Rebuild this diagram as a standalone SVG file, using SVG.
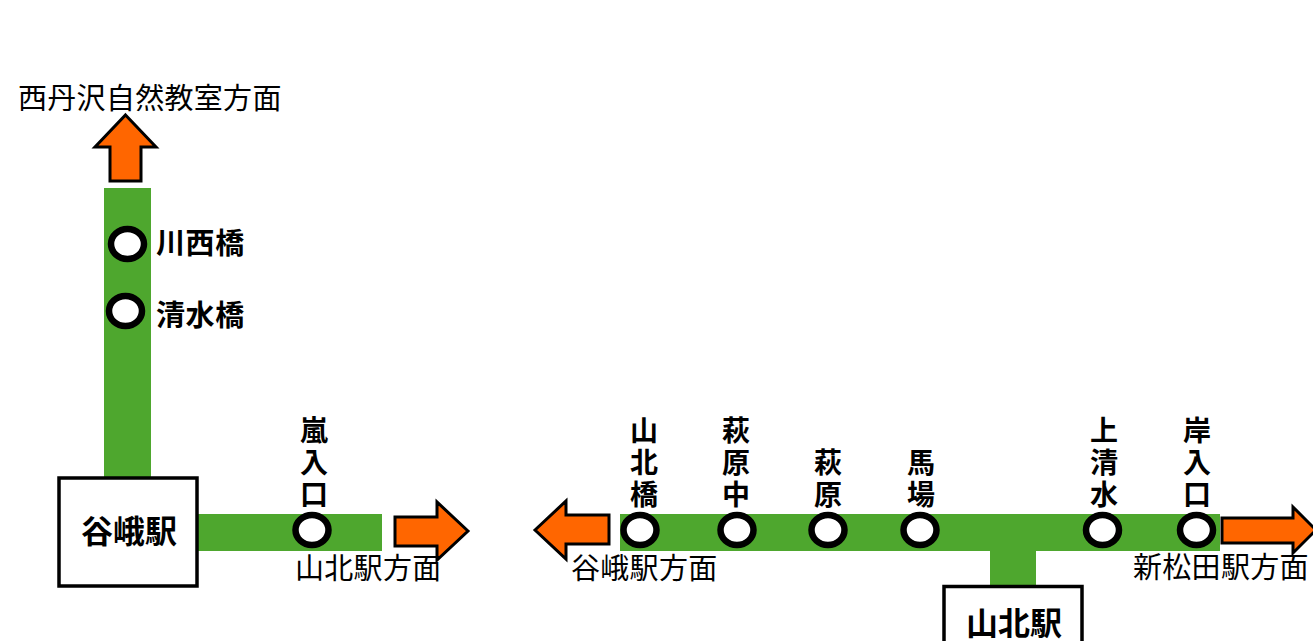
<svg xmlns="http://www.w3.org/2000/svg" width="1313" height="641" viewBox="0 0 1313 641">
<style>
.t{font-family:"Noto Sans CJK JP","Liberation Sans",sans-serif;fill:#000}
.d{font-size:29px;letter-spacing:.3px}
.s{font-size:29px;font-weight:700;letter-spacing:.6px}
.v{font-size:28px;font-weight:700;text-anchor:middle}
.b{font-size:32px;font-weight:700}
.st{fill:#fff;stroke:#000;stroke-width:6.500}
.ar{fill:#f60;stroke:#000;stroke-width:3}
.box{fill:#fff;stroke:#000;stroke-width:3.500}
.line{fill:#4ea72e}
</style>
<g id="connectors">
<rect class="line" x="104" y="188" width="47" height="291"/>
<rect class="line" x="197" y="514" width="185" height="37"/>
<rect class="line" x="620" y="514" width="600" height="37"/>
<rect class="line" x="990" y="551" width="46" height="36"/>
<polygon class="ar" points="125.500,115 156,147 141,147 141,181 110,181 110,147 95,147"/>
<polygon class="ar" points="468,531 437,502 437,517 395,517 395,546 437,546 437,560"/>
<polygon class="ar" points="535,530 566,501 566,515 609,515 609,544 566,544 566,559"/>
<polygon class="ar" points="1316,530 1293,507 1293,518 1222,518 1222,543 1293,543 1293,553"/>
</g>
<g id="label-nishitanzawa"><text class="t d" x="18" y="109">西丹沢自然教室方面</text></g>
<g id="label-yamakita-dir"><text class="t d" x="295" y="579">山北駅方面</text></g>
<g id="label-yaga-dir"><text class="t d" x="571" y="579">谷峨駅方面</text></g>
<g id="label-shinmatsuda-dir"><text class="t d" x="1133" y="578">新松田駅方面</text></g>
<g id="st-kawanishibashi"><ellipse class="st" cx="127.500" cy="244" rx="16.500" ry="15"/><text class="t s" x="156" y="254">川西橋</text></g>
<g id="st-shimizubashi"><ellipse class="st" cx="125.500" cy="311" rx="16.500" ry="15"/><text class="t s" x="156" y="326">清水橋</text></g>
<g id="st-arashiiriguchi"><ellipse class="st" cx="312" cy="530" rx="16.500" ry="15"/><text class="t v"><tspan x="314" y="441">嵐</tspan><tspan x="314" y="473">入</tspan><tspan x="314" y="505">口</tspan></text></g>
<g id="st-yamakitabashi"><ellipse class="st" cx="640" cy="530" rx="16.500" ry="15"/><text class="t v"><tspan x="644" y="441">山</tspan><tspan x="644" y="473">北</tspan><tspan x="644" y="505">橋</tspan></text></g>
<g id="st-hagiwaranaka"><ellipse class="st" cx="737" cy="530" rx="16.500" ry="15"/><text class="t v"><tspan x="736" y="441">萩</tspan><tspan x="736" y="473">原</tspan><tspan x="736" y="505">中</tspan></text></g>
<g id="st-hagiwara"><ellipse class="st" cx="828" cy="530" rx="16.500" ry="15"/><text class="t v"><tspan x="828" y="473">萩</tspan><tspan x="828" y="505">原</tspan></text></g>
<g id="st-baba"><ellipse class="st" cx="920" cy="530" rx="16.500" ry="15"/><text class="t v"><tspan x="921" y="473">馬</tspan><tspan x="921" y="505">場</tspan></text></g>
<g id="st-kamishimizu"><ellipse class="st" cx="1102.500" cy="530" rx="16.500" ry="15"/><text class="t v"><tspan x="1104" y="441">上</tspan><tspan x="1104" y="473">清</tspan><tspan x="1104" y="505">水</tspan></text></g>
<g id="st-kishiiriguchi"><ellipse class="st" cx="1196.500" cy="530" rx="16.500" ry="15"/><text class="t v"><tspan x="1197" y="441">岸</tspan><tspan x="1197" y="473">入</tspan><tspan x="1197" y="505">口</tspan></text></g>
<g id="yaga-station"><rect class="box" x="59" y="478" width="138" height="108"/><text class="t b" x="81" y="543">谷峨駅</text></g>
<g id="yamakita-station"><rect class="box" x="944" y="586.500" width="138" height="70"/><text class="t b" x="966" y="635">山北駅</text></g>
</svg>
